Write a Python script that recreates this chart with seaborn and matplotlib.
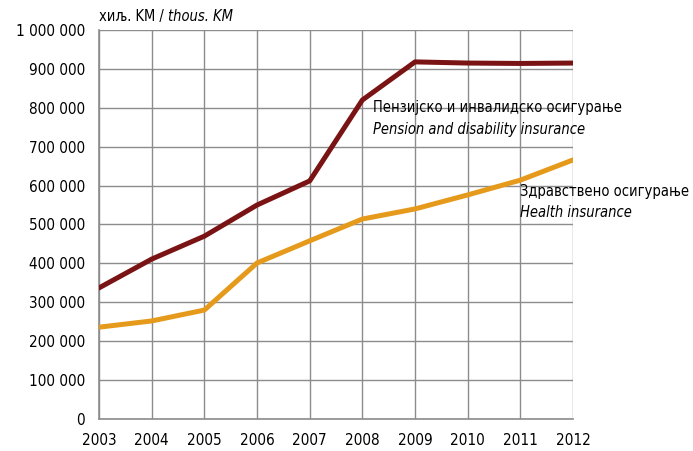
import numpy as np
import pandas as pd
import seaborn as sns
import matplotlib.pyplot as plt
from matplotlib.ticker import FuncFormatter

years = [2003, 2004, 2005, 2006, 2007, 2008, 2009, 2010, 2011, 2012]
pension = [337000, 411000, 470000, 550000, 612000, 820000, 918000, 915000, 914000, 915000]
health = [236000, 252000, 280000, 401000, 458000, 514000, 540000, 576000, 614000, 666000]

df = pd.DataFrame({'year': years, 'pension': pension, 'health': health})

sns.set_theme(style='white')
plt.rcParams['font.family'] = ['Liberation Sans Narrow', 'DejaVu Sans']
plt.rcParams['font.stretch'] = 'condensed'
plt.rcParams['text.color'] = 'black'

fig = plt.figure(figsize=(6.93, 4.51), dpi=100)
ax = fig.add_axes([0.1429, 0.071, 0.684, 0.8625])

sns.lineplot(x='year', y='pension', data=df, color='#7a1314', linewidth=3.6, ax=ax, zorder=3)
sns.lineplot(x='year', y='health', data=df, color='#e59a1c', linewidth=3.6, ax=ax, zorder=3)

ax.set_xlim(2003, 2012)
ax.set_ylim(0, 1000000)
ax.set_xticks(years)
ax.set_yticks(np.arange(0, 1000001, 100000))
ax.yaxis.set_major_formatter(FuncFormatter(lambda v, p: f'{int(v):,}'.replace(',', ' ')))
ax.grid(True, color='#8c8c8c', linewidth=1.0)
ax.set_axisbelow(True)
for s in ['top', 'right']:
    ax.spines[s].set_visible(False)
for s in ['left', 'bottom']:
    ax.spines[s].set_color('#8c8c8c')
    ax.spines[s].set_linewidth(1.2)
ax.tick_params(axis='both', labelsize=11, colors='black', length=0, pad=10)
ax.set_xlabel('')
ax.set_ylabel('')

t1 = ax.text(0, 1.015, 'хиљ. KM / ', transform=ax.transAxes, fontsize=10.5, va='bottom', ha='left')
ax.annotate('thous. KM', xy=(1, 0), xycoords=t1, fontsize=10.5, va='bottom', ha='left', style='italic')

ax.text(2008.2, 800000, 'Пензијско и инвалидско осигурање', fontsize=10.5, va='center')
ax.text(2008.2, 745000, 'Pension and disability insurance', fontsize=10.5, va='center', style='italic')
ax.text(2010.99, 585000, 'Здравствено осигурање', fontsize=10.5, va='center')
ax.text(2010.99, 530000, 'Health insurance', fontsize=10.5, va='center', style='italic')

fig.savefig('out.png', dpi=100)
